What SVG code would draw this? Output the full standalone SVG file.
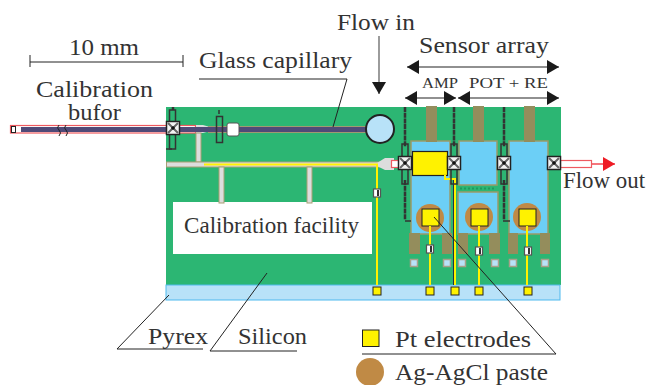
<svg xmlns="http://www.w3.org/2000/svg" width="646" height="385" viewBox="0 0 646 385">
<defs>
<marker id="ah" markerUnits="userSpaceOnUse" markerWidth="13" markerHeight="14" refX="12" refY="7" orient="auto-start-reverse"><path d="M0 0L12 7L0 14Z" fill="#1a1a1a"/></marker>
<marker id="red" markerUnits="userSpaceOnUse" markerWidth="13" markerHeight="14" refX="12" refY="7" orient="auto"><path d="M0 0L12 7L0 14Z" fill="#ee1c25"/></marker>
<g id="cross"><rect x="-6.500" y="-6.500" width="13" height="13" fill="#f4f4f4" stroke="#222" stroke-width="1.500"/><path d="M-5-5L5 5M5-5L-5 5" stroke="#666" stroke-width="2"/><circle r="1.800" fill="#111"/></g>
<g id="pad"><rect x="-3.500" y="-3.500" width="7" height="7" fill="#b8e2f8" stroke="#a8a08a" stroke-width="1.500"/></g>
<g id="via"><rect x="-3.500" y="-4" width="7" height="8" fill="#fff" stroke="#555" stroke-width="1.200"/><path d="M1-3V3" stroke="#333" stroke-width="2"/></g>
<g id="pt"><rect x="-4" y="-4" width="8" height="8" fill="#fff200" stroke="#222" stroke-width="1"/></g>
<g id="pin"><rect x="-3" y="-8" width="6" height="16" fill="none" stroke="#333" stroke-width="1.500"/></g>
</defs>
<style>
text{font-family:"Liberation Serif",serif;fill:#333;font-size:23px}
.s{font-size:15px}
.l{fill:none;stroke:#222;stroke-width:1}
.a{fill:none;stroke:#222;stroke-width:1.200}
.ch{fill:#ddd;stroke:#a89f74;stroke-width:1}
.y{fill:none;stroke:#fff200;stroke-width:2}
.sens{fill:#6ccff6;stroke:#9a9a6a;stroke-width:1.500}
.b{fill:#948d5c}
.w{fill:none;stroke:#333;stroke-width:2.500;stroke-dasharray:5 .7}
.ag{fill:#c08a45}
</style>
<g id="chip">
<rect x="166" y="107" width="395" height="178" fill="#2cb673"/>
<rect x="166" y="285" width="394" height="15" fill="#b8e2f8" stroke="#4fb9ee" stroke-width="1"/>
<rect x="173" y="202" width="199" height="52" fill="#fff"/>
</g>
<g id="channels">
<rect x="10.500" y="125.500" width="185" height="7.500" fill="#fff" stroke="#ee5a60" stroke-width="1.200"/>
<path d="M196 125H203L210 127V131L203 133H196Z" fill="#ddd"/>
<rect x="196" y="133" width="5" height="29" class="ch"/>
<rect x="166.500" y="162" width="214" height="5" class="ch"/>
<rect x="219" y="167" width="5" height="36" class="ch"/>
<rect x="307" y="167" width="5" height="36" class="ch"/>
<path d="M377 163L385 158H394V170H385L377 166Z" fill="#ddd"/>
<rect x="391.500" y="160.500" width="169" height="7" fill="#fff" stroke="#ee5a60" stroke-width="1.200"/>
<rect x="560.500" y="160.500" width="31" height="7" fill="#fff" stroke="#ee5a60" stroke-width="1.200"/>
<rect x="208" y="126" width="160" height="7" fill="#a09a70"/>
<rect x="21" y="127" width="346" height="5" fill="#4f4a78"/>
<rect x="11.500" y="126.500" width="4" height="6" fill="#fff" stroke="#222"/>
</g>
<g id="sensor-amp">
<rect x="411" y="141" width="39" height="93" class="sens"/>
<rect x="426" y="106" width="11" height="36" class="b"/>
<circle cx="430" cy="218" r="14" class="ag"/>
<rect x="422" y="209" width="17" height="17" fill="#fff200" stroke="#222"/>
<rect x="412.500" y="151.500" width="35" height="24" fill="#fff200" stroke="#222" stroke-width="1.200"/>
</g>
<g id="sensor-pot">
<rect x="459" y="141" width="38" height="44" class="sens"/>
<rect x="458" y="192" width="40" height="42" class="sens"/>
<path d="M460 188.500H496" stroke="#1f9a5c" stroke-width="2" stroke-dasharray="2 2"/>
<rect x="473" y="106" width="11" height="36" class="b"/>
<circle cx="479" cy="217" r="14" class="ag"/>
<rect x="471" y="209" width="17" height="17" fill="#fff200" stroke="#222"/>
</g>
<g id="sensor-re">
<rect x="509" y="141" width="39" height="93" class="sens"/>
<rect x="524" y="106" width="11" height="36" class="b"/>
<circle cx="527" cy="217" r="14" class="ag"/>
<rect x="519" y="209" width="17" height="17" fill="#fff200" stroke="#222"/>
</g>
<g id="contacts">
<rect x="409" y="233" width="11" height="21" class="b"/><rect x="442" y="233" width="10" height="21" class="b"/>
<rect x="458" y="233" width="10" height="21" class="b"/><rect x="489" y="233" width="11" height="21" class="b"/>
<rect x="508" y="233" width="10" height="21" class="b"/><rect x="540" y="233" width="10" height="21" class="b"/>
<use href="#pad" x="414" y="263"/><use href="#pad" x="447" y="263"/><use href="#pad" x="462" y="263"/><use href="#pad" x="495" y="263"/><use href="#pad" x="513" y="263"/><use href="#pad" x="545" y="263"/>
</g>
<g id="connectors">
<path d="M453.500 178V285" stroke="#234" stroke-width="1" fill="none"/>
<path class="y" d="M204 164.500H377V285M430 226V285M479 226V285M527 226V285M445 175V179H455V285"/>
<path class="w" d="M405 107V147M454 107V147M504 107V147M405 180V220M504 180V220"/>
<path d="M405 221H411M503 221H510M172 149H166M219 110V114" stroke="#333" stroke-width="1.500" fill="none"/>
<path d="M173 107V110" class="w"/>
<path class="l" d="M30 62H183M30 55V67M183 55V67"/>
<path d="M379 36V94" fill="none" stroke="#666" stroke-width="1.300" marker-end="url(#ah)"/>
<path class="a" d="M407 67H559" marker-start="url(#ah)" marker-end="url(#ah)"/>
<path class="a" d="M405 98H456" marker-start="url(#ah)" marker-end="url(#ah)"/>
<path class="a" d="M458 98H559" marker-start="url(#ah)" marker-end="url(#ah)"/>
<path d="M592 164H615" stroke="#ee1c25" stroke-width="1.200" marker-end="url(#red)"/>
<path class="l" d="M199 79H347L333 127"/>
<path class="l" d="M117 349H203M117 349L169 295"/>
<path class="l" d="M210 351H297M210 351L267 273"/>
<path class="l" d="M434 217L556 354H362"/>
<path d="M59 125Q56 128 59 130Q62 133 59 136M66 125Q63 128 66 130Q69 133 66 136" fill="none" stroke="#222"/>
</g>
<g id="valves">
<use href="#pin" x="172.500" y="118"/><use href="#pin" x="172.500" y="141"/>
<rect x="216.500" y="116.500" width="6" height="26" fill="none" stroke="#333" stroke-width="1.500"/>
<rect x="227" y="123" width="12" height="13" rx="2" fill="#fff" stroke="#555"/>
<use href="#pin" x="405" y="152"/><use href="#pin" x="405" y="176"/><use href="#pin" x="454" y="152"/><use href="#pin" x="454" y="176"/><use href="#pin" x="504" y="152"/><use href="#pin" x="504" y="176"/>
<use href="#cross" x="173" y="128"/>
<use href="#cross" x="405" y="163"/><use href="#cross" x="454" y="163"/><use href="#cross" x="504" y="163"/><use href="#cross" x="554" y="163"/>
<use href="#via" x="377" y="193"/><use href="#via" x="430" y="249"/><use href="#via" x="479" y="251"/><use href="#via" x="528" y="251"/>
</g>
<g id="inlet"><circle cx="380" cy="129" r="14" fill="#b8e2f8" stroke="#222" stroke-width="2"/></g>
<g id="electrodes">
<use href="#pt" x="377" y="291"/><use href="#pt" x="430" y="291"/><use href="#pt" x="455" y="291"/><use href="#pt" x="479" y="291"/><use href="#pt" x="528" y="291"/>
</g>
<g id="legend">
<rect x="362.500" y="330" width="16.500" height="16.500" fill="#fff200" stroke="#222"/>
<circle cx="370" cy="372" r="14" class="ag"/>
</g>
<g id="labels">
<text x="69" y="55" textLength="70" lengthAdjust="spacingAndGlyphs">10 mm</text>
<text x="36" y="97" textLength="117" lengthAdjust="spacingAndGlyphs">Calibration</text>
<text x="68" y="120" textLength="53" lengthAdjust="spacingAndGlyphs">bufor</text>
<text x="199" y="68" textLength="153" lengthAdjust="spacingAndGlyphs">Glass capillary</text>
<text x="337" y="30" textLength="78" lengthAdjust="spacingAndGlyphs">Flow in</text>
<text x="419" y="53" textLength="130" lengthAdjust="spacingAndGlyphs">Sensor array</text>
<text x="422" y="88" class="s" textLength="36" lengthAdjust="spacingAndGlyphs">AMP</text>
<text x="469" y="88" class="s" textLength="79" lengthAdjust="spacingAndGlyphs">POT + RE</text>
<text x="563" y="188" textLength="82" lengthAdjust="spacingAndGlyphs">Flow out</text>
<text x="184" y="233" textLength="175" lengthAdjust="spacingAndGlyphs">Calibration facility</text>
<text x="148" y="344" textLength="60" lengthAdjust="spacingAndGlyphs">Pyrex</text>
<text x="238" y="344" textLength="69" lengthAdjust="spacingAndGlyphs">Silicon</text>
<text x="395" y="347" textLength="136" lengthAdjust="spacingAndGlyphs">Pt electrodes</text>
<text x="395" y="380" textLength="153" lengthAdjust="spacingAndGlyphs">Ag-AgCl paste</text>
</g>
</svg>
